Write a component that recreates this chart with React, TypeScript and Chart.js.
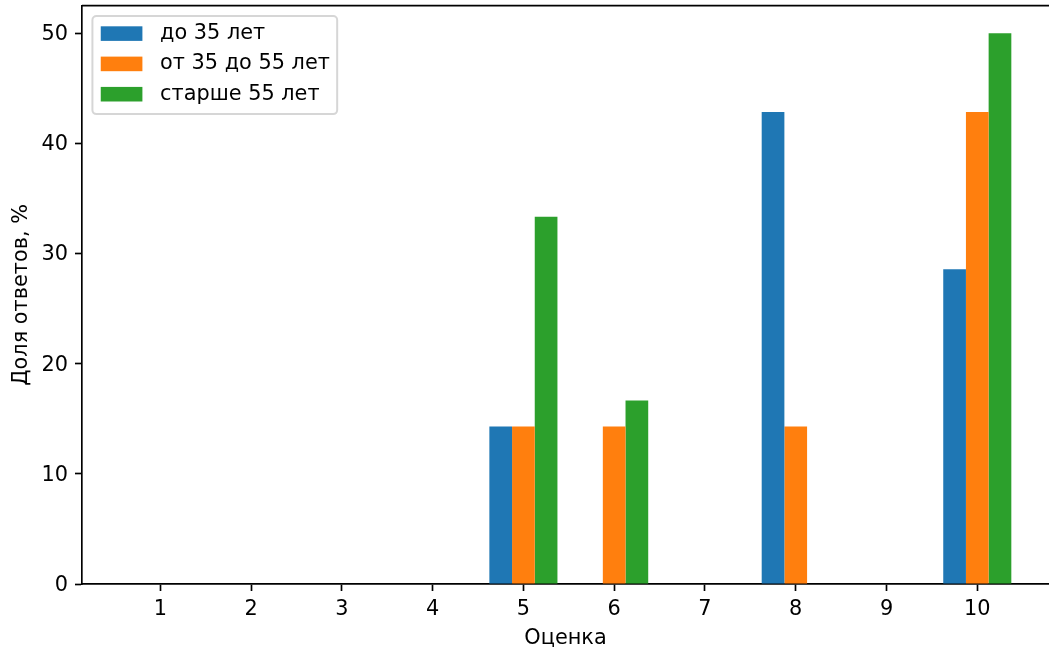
import React, { useEffect, useRef } from 'react';
import { Chart, registerables } from 'chart.js';

Chart.register(...registerables);

const categories = [1, 2, 3, 4, 5, 6, 7, 8, 9, 10];
const seriesLabels = ['до 35 лет', 'от 35 до 55 лет', 'старше 55 лет'];
const under35 = [0, 0, 0, 0, 14.29, 0, 0, 42.86, 0, 28.57];
const from35to55 = [0, 0, 0, 0, 14.29, 14.29, 0, 14.29, 0, 42.86];
const over55 = [0, 0, 0, 0, 33.33, 16.67, 0, 0, 0, 50.0];
const yTicks = [0, 10, 20, 30, 40, 50];
const xTitle = 'Оценка';
const yTitle = 'Доля ответов, %';

const colors = ['#1f77b4', '#ff7f0e', '#2ca02c'];
const FONT = 'DejaVu Sans';
const FS = 20.83;

const frameAndLegend = {
  id: 'frameAndLegend',
  afterDraw(chart: any) {
    const ctx = chart.ctx;
    const a = chart.chartArea;
    ctx.save();
    // top spine
    ctx.strokeStyle = '#000';
    ctx.lineWidth = 1.67;
    ctx.beginPath();
    ctx.moveTo(a.left, a.top);
    ctx.lineTo(a.right + 2, a.top);
    ctx.stroke();

    // legend
    const pad = FS * 0.4;
    const bx = a.left + FS * 0.5;
    const by = a.top + FS * 0.5;
    const handleLen = FS * 2.0;
    const handleH = FS * 0.7;
    const textGap = FS * 0.8;
    const rowStep = 30.3;
    ctx.font = `${FS}px "${FONT}"`;
    const ds = chart.data.datasets;
    let maxW = 0;
    ds.forEach((d: any) => {
      maxW = Math.max(maxW, ctx.measureText(d.label).width);
    });
    const bw = pad + handleLen + textGap + maxW + pad;
    const bh = 98;
    const r = 4;
    ctx.beginPath();
    ctx.moveTo(bx + r, by);
    ctx.lineTo(bx + bw - r, by);
    ctx.arcTo(bx + bw, by, bx + bw, by + r, r);
    ctx.lineTo(bx + bw, by + bh - r);
    ctx.arcTo(bx + bw, by + bh, bx + bw - r, by + bh, r);
    ctx.lineTo(bx + r, by + bh);
    ctx.arcTo(bx, by + bh, bx, by + bh - r, r);
    ctx.lineTo(bx, by + r);
    ctx.arcTo(bx, by, bx + r, by, r);
    ctx.closePath();
    ctx.fillStyle = 'rgba(255,255,255,0.8)';
    ctx.fill();
    ctx.strokeStyle = 'rgba(204,204,204,0.8)';
    ctx.lineWidth = 2;
    ctx.stroke();

    ds.forEach((d: any, i: number) => {
      const cy = 33.6 + i * rowStep;
      ctx.fillStyle = d.backgroundColor;
      ctx.fillRect(bx + pad, cy - handleH / 2, handleLen, handleH);
      ctx.fillStyle = '#000';
      ctx.textBaseline = 'middle';
      ctx.textAlign = 'left';
      ctx.fillText(d.label, bx + pad + handleLen + textGap + 1, cy);
    });
    ctx.restore();
  },
};

export default function App() {
  const ref = useRef<HTMLCanvasElement | null>(null);

  useEffect(() => {
    document.body.style.margin = '0';
    const canvas = ref.current;
    if (!canvas) return;
    const series = [under35, from35to55, over55];
    const chart = new Chart(canvas, {
      type: 'bar',
      data: {
        datasets: series.map((vals, si) => ({
          label: seriesLabels[si],
          data: vals.map((v, i) => ({ x: categories[i], y: v })),
          backgroundColor: colors[si],
          borderWidth: 0,
          categoryPercentage: 0.75,
          barPercentage: 1.0,
        })),
      },
      options: {
        responsive: false,
        animation: false,
        devicePixelRatio: 1,
        layout: { padding: { top: 5.7, right: 0, left: 0, bottom: 0 } },
        plugins: {
          legend: { display: false },
          tooltip: { enabled: false },
        },
        scales: {
          x: {
            type: 'linear',
            min: 0.1375,
            max: 10.79,
            offset: false,
            grid: {
              offset: false,
              display: true,
              drawOnChartArea: false,
              drawTicks: true,
              tickLength: 7,
              tickWidth: 1.67,
              tickColor: '#000',
            },
            border: { display: true, color: '#000', width: 1.67 },
            ticks: {
              color: '#000',
              font: { family: FONT, size: FS },
              padding: 6,
              maxRotation: 0,
              autoSkip: false,
              callback: (v: any) => String(v),
            },
            title: {
              display: true,
              text: xTitle,
              color: '#000',
              font: { family: FONT, size: FS },
              padding: { top: 0, bottom: 1 },
            },
            afterBuildTicks: (axis: any) => {
              axis.ticks = categories.map((v) => ({ value: v }));
            },
            afterFit: (scale: any) => {
              scale.height = 68;
              scale.paddingLeft = 0;
              scale.paddingRight = 0;
              scale.paddingTop = 0;
              scale.paddingBottom = 0;
            },
          } as any,
          y: {
            min: 0,
            max: 52.5,
            grid: {
              display: true,
              drawOnChartArea: false,
              drawTicks: true,
              tickLength: 7,
              tickWidth: 1.67,
              tickColor: '#000',
            },
            border: { display: true, color: '#000', width: 1.67 },
            ticks: {
              color: '#000',
              font: { family: FONT, size: FS },
              padding: 7,
              labelOffset: 1.5,
              callback: (v: any) => String(v),
            },
            title: {
              display: true,
              text: yTitle,
              color: '#000',
              font: { family: FONT, size: FS },
              padding: { top: 9, bottom: 0 },
            },
            afterBuildTicks: (axis: any) => {
              axis.ticks = yTicks.map((v) => ({ value: v }));
            },
            afterFit: (scale: any) => {
              scale.width = 82;
              scale.paddingLeft = 0;
              scale.paddingRight = 0;
              scale.paddingTop = 0;
              scale.paddingBottom = 0;
            },
          } as any,
        },
      },
      plugins: [frameAndLegend],
    });
    return () => chart.destroy();
  }, []);

  return (
    <div style={{ position: 'absolute', left: 0, top: 0, width: 1049, height: 652, background: '#fff' }}>
      <canvas ref={ref} width={1049} height={652} style={{ display: 'block' }} />
    </div>
  );
}
